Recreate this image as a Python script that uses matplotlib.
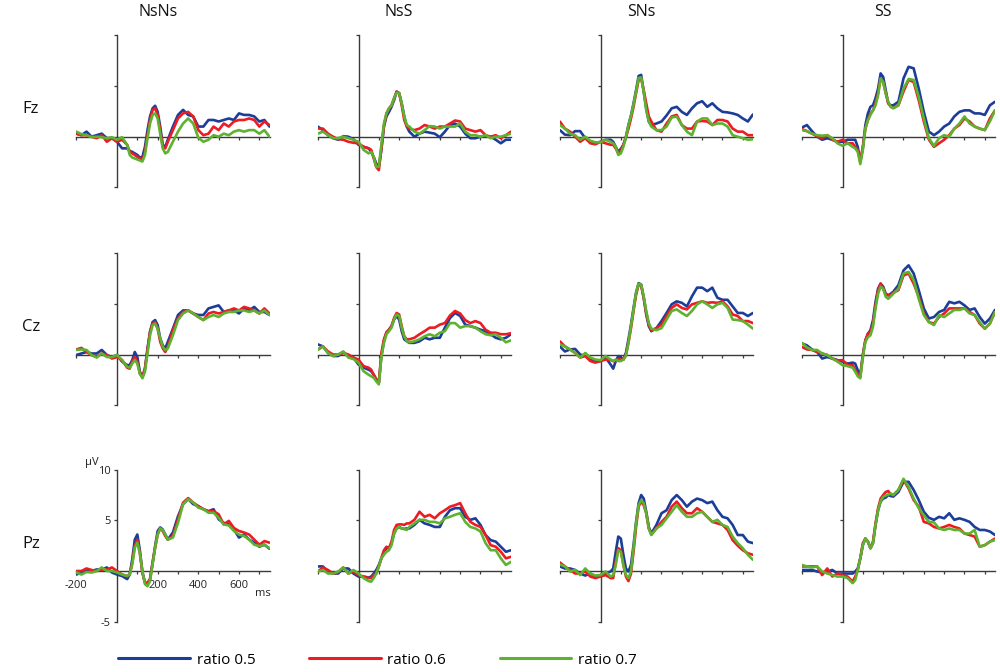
import numpy as np
import matplotlib
matplotlib.use("Agg")
import matplotlib.pyplot as plt

plt.rcParams["font.family"] = ["Open Sans", "DejaVu Sans"]

conditions = ["NsNs", "NsS", "SNs", "SS"]
electrodes = ["Fz", "Cz", "Pz"]
ratio_labels = ["ratio 0.5", "ratio 0.6", "ratio 0.7"]
colors = ["#1c3d98", "#ec1c24", "#5eb230"]

# sample times (ms): 25 ms steps, 12.5 ms around the early components
time_ms = np.concatenate([np.arange(-200, 51, 25),
                          np.arange(62.5, 251, 12.5),
                          np.arange(275, 751, 25)])

# amplitudes in microvolts
fz_nsns_05 = [0.3, 0.15, 0.5, 0.0, 0.15, 0.3, -0.15, -0.15, -0.5, -1.15, -1.15,
              -1.4, -1.5, -1.65, -1.8, -2.05, -2.0, -1.0, 0.65, 2.0, 2.8, 3.05, 2.45, 1.0, -0.8, -1.0, -0.3,
              1.0, 2.15, 2.65, 2.15, 2.0, 1.0, 1.0, 1.65, 1.65, 1.5, 1.65, 1.8, 1.65, 2.3, 2.15, 2.15, 2.0, 1.5, 1.65, 1.0]
fz_nsns_06 = [0.3, 0.15, 0.15, 0.0, -0.15, 0.15, -0.5, -0.15, -0.5, -0.3, -0.8,
              -1.5, -1.65, -1.8, -2.0, -2.15, -2.25, -1.5, 0.15, 1.65, 2.65, 2.8, 2.15, 0.65, -1.0, -1.15, -0.5,
              0.65, 1.8, 2.3, 2.45, 2.0, 0.65, 0.15, 0.3, 1.0, 0.65, 1.3, 1.0, 1.5, 1.65, 1.65, 1.8, 1.65, 1.0, 1.5, 1.15]
fz_nsns_07 = [0.5, 0.25, 0.15, -0.05, 0.0, -0.05, -0.15, -0.05, -0.3, -0.05, -0.8,
              -1.8, -2.05, -2.15, -2.25, -2.35, -2.45, -1.8, -0.15, 1.3, 2.15, 2.3, 1.8, 0.3, -1.15, -1.65, -1.5,
              -0.5, 0.5, 1.3, 1.8, 1.3, -0.1, -0.5, -0.3, 0.15, 0.0, 0.3, 0.15, 0.5, 0.65, 0.5, 0.65, 0.65, 0.3, 0.65, 0.0]

fz_nss_05 = [1.0, 0.65, 0.15, -0.15, -0.3, 0.05, 0.0, -0.25, -0.8, -1.0, -1.15,
             -1.5, -2.0, -2.65, -2.95, -1.3, 1.0, 2.0, 2.45, 2.95, 3.6, 4.45, 4.3, 3.3, 2.0, 1.0, 0.5,
             0.0, 0.3, 0.5, 0.4, 0.3, -0.05, 0.5, 1.15, 1.3, 1.0, 0.3, -0.15, -0.15, 0.0, 0.0, 0.0, -0.3, -0.65, -0.3, -0.3]
fz_nss_06 = [0.8, 0.8, 0.3, 0.0, -0.25, -0.3, -0.5, -0.6, -0.65, -1.0, -1.15,
             -1.3, -2.15, -3.0, -3.3, -1.15, 1.0, 2.3, 2.8, 3.1, 3.8, 4.45, 4.3, 3.1, 1.65, 1.0, 0.8,
             0.65, 0.8, 1.15, 1.0, 0.8, 1.0, 1.0, 1.3, 1.6, 1.5, 0.8, 0.65, 0.5, 0.65, 0.15, 0.0, 0.15, -0.15, 0.15, 0.5]
fz_nss_07 = [0.3, 0.5, 0.15, -0.15, -0.15, 0.0, -0.15, -0.3, -0.5, -1.3, -1.65,
             -1.5, -2.0, -3.0, -2.95, -0.8, 1.3, 2.3, 2.8, 3.1, 3.8, 4.35, 4.3, 3.3, 2.0, 1.15, 1.0,
             0.5, 0.3, 0.65, 1.05, 1.0, 0.8, 1.0, 1.0, 1.0, 1.3, 0.5, 0.15, 0.15, 0.0, 0.15, -0.15, 0.0, 0.0, 0.15, 0.3]

fz_sns_05 = [0.65, 0.2, 0.15, 0.55, 0.55, -0.15, -0.5, -0.65, -0.5, -0.3, -0.3,
             -0.5, -1.0, -1.5, -1.2, -0.8, 0.0, 1.15, 2.1, 3.3, 4.6, 6.0, 6.1, 4.45, 2.8, 1.5, 1.15,
             1.3, 1.5, 2.1, 2.8, 2.95, 2.45, 2.15, 2.8, 3.3, 3.5, 2.95, 3.3, 2.8, 2.45, 2.4, 2.3, 2.15, 1.8, 1.5, 2.2]
fz_sns_06 = [1.5, 0.8, 0.5, 0.0, -0.5, -0.15, -0.65, -0.75, -0.5, -0.65, -0.8,
             -0.8, -1.15, -1.65, -1.4, -0.8, -0.1, 0.8, 1.8, 2.95, 4.3, 5.6, 5.75, 4.6, 3.3, 2.0, 1.5,
             0.65, 0.5, 1.3, 2.0, 2.15, 1.15, 0.8, 0.8, 1.5, 1.55, 1.5, 1.15, 1.65, 1.65, 1.5, 0.8, 0.5, 0.5, 0.15, 0.15]
fz_sns_07 = [1.15, 0.8, 0.3, 0.15, -0.3, 0.0, -0.4, -0.55, -0.55, -0.3, -0.5,
             -0.65, -1.0, -1.8, -1.65, -1.0, -0.1, 1.15, 2.05, 3.2, 4.45, 5.8, 5.85, 4.45, 2.6, 1.5, 1.0,
             0.65, 0.65, 1.0, 1.9, 2.0, 1.15, 0.5, 0.15, 1.5, 1.8, 1.8, 1.15, 1.3, 1.3, 1.0, 0.15, 0.0, -0.15, -0.3, -0.25]

fz_ss_05 = [0.9, 1.15, 0.55, 0.0, -0.3, -0.15, -0.3, -0.5, -0.5, -0.3, -0.3,
            -0.3, -1.0, -2.45, -1.15, 1.15, 2.3, 2.95, 3.1, 3.8, 4.75, 6.25, 5.9, 4.6, 3.3, 3.1, 3.1,
            3.45, 5.75, 6.9, 6.75, 4.75, 2.45, 0.5, 0.15, 0.5, 1.0, 1.3, 2.0, 2.45, 2.6, 2.6, 2.3, 2.3, 2.15, 3.1, 3.45]
fz_ss_06 = [0.75, 0.55, 0.3, 0.05, -0.15, 0.15, -0.3, -0.5, -0.3, -0.65, -0.65,
            -1.0, -1.3, -2.45, -1.0, 0.8, 1.65, 2.3, 2.6, 3.3, 4.3, 5.75, 5.4, 4.3, 3.3, 2.95, 2.85,
            3.1, 4.45, 5.6, 5.4, 3.6, 1.5, -0.3, -1.0, -0.65, -0.3, 0.15, 0.8, 1.15, 1.8, 1.5, 1.0, 0.8, 0.65, 1.8, 2.6]
fz_ss_07 = [0.65, 0.55, 0.3, 0.15, 0.1, 0.15, -0.15, -0.65, -0.9, -0.65, -1.0,
            -1.15, -1.5, -2.7, -1.3, 0.8, 1.65, 2.15, 2.6, 3.1, 4.1, 5.75, 5.4, 4.3, 3.45, 2.95, 2.8,
            3.1, 4.75, 5.7, 5.6, 3.95, 1.8, -0.15, -0.9, -0.15, 0.15, 0.0, 0.8, 1.3, 2.0, 1.3, 1.0, 0.8, 0.65, 1.5, 2.6]

cz_nsns_05 = [-0.05, 0.1, 0.25, 0.1, 0.1, 0.45, -0.05, -0.25, -0.05, -0.7, -1.05,
              -1.05, -0.55, 0.25, -0.25, -1.7, -2.2, -1.4, 0.6, 2.25, 3.2, 3.4, 2.9, 1.6, 0.9, 0.6, 1.25,
              2.55, 3.9, 4.35, 4.35, 4.05, 3.9, 3.9, 4.55, 4.7, 4.85, 4.2, 4.35, 4.35, 4.05, 4.55, 4.35, 4.7, 4.2, 4.2, 3.9]
cz_nsns_06 = [0.5, 0.65, 0.25, -0.05, -0.25, 0.1, -0.05, -0.4, -0.25, -0.55, -1.3,
              -1.4, -0.7, -0.25, -0.7, -1.9, -2.2, -1.4, 0.45, 2.25, 3.05, 3.2, 2.55, 1.25, 0.6, 0.25, 0.75,
              2.4, 3.55, 4.2, 4.35, 4.05, 3.7, 3.4, 4.05, 4.2, 4.05, 4.2, 4.35, 4.55, 4.35, 4.7, 4.55, 4.35, 4.05, 4.55, 4.05]
cz_nsns_07 = [0.45, 0.5, 0.45, -0.05, -0.3, 0.1, -0.25, -0.25, -0.05, -0.55, -1.2,
              -1.3, -0.9, -0.55, -0.9, -1.9, -2.35, -1.7, 0.1, 1.9, 2.9, 3.05, 2.55, 1.6, 0.75, 0.45, 0.6,
              1.9, 3.4, 4.05, 4.35, 4.05, 3.7, 3.4, 3.7, 3.9, 3.7, 4.05, 4.2, 4.2, 4.35, 4.35, 4.2, 4.35, 4.05, 4.35, 3.9]

cz_nss_05 = [1.0, 0.8, 0.15, -0.15, -0.15, 0.25, -0.15, -0.3, -1.0, -1.3, -1.5,
             -1.65, -2.0, -2.45, -2.8, -0.15, 1.3, 2.15, 2.45, 2.8, 3.45, 3.8, 3.45, 2.3, 1.5, 1.3, 1.15,
             1.15, 1.3, 1.65, 1.5, 1.65, 1.65, 2.65, 3.6, 4.1, 3.8, 2.95, 2.8, 2.65, 2.45, 2.3, 2.0, 1.65, 1.5, 1.65, 2.0]
cz_nss_06 = [0.5, 0.8, 0.3, 0.0, 0.0, 0.15, 0.0, -0.3, -0.5, -1.15, -1.3,
             -1.5, -2.0, -2.45, -2.8, 0.15, 1.5, 2.2, 2.45, 2.8, 3.6, 4.1, 3.95, 2.8, 1.8, 1.5, 1.5,
             1.65, 2.0, 2.3, 2.65, 2.65, 2.95, 3.1, 3.85, 4.3, 4.05, 3.4, 3.1, 3.3, 3.1, 2.45, 2.15, 2.15, 2.0, 2.0, 2.1]
cz_nss_07 = [0.45, 0.8, 0.15, -0.15, 0.0, 0.3, -0.3, -0.45, -0.8, -1.65, -2.0,
             -2.15, -2.3, -2.65, -2.95, -0.3, 1.15, 2.0, 2.3, 2.65, 3.45, 3.95, 3.8, 2.65, 1.8, 1.3, 1.2,
             1.3, 1.5, 1.8, 2.0, 1.8, 2.15, 2.3, 3.1, 3.1, 2.65, 2.8, 2.8, 2.65, 2.3, 2.0, 1.9, 2.0, 1.65, 1.2, 1.4]

cz_sns_05 = [0.8, 0.3, 0.5, 0.55, 0.0, -0.15, -0.5, -0.65, -0.65, -0.3, -1.0,
             -1.4, -0.65, -0.15, -0.3, -0.5, 0.15, 1.5, 2.95, 4.6, 6.1, 7.05, 6.9, 5.6, 3.95, 2.8, 2.3,
             2.6, 3.3, 4.1, 4.95, 5.25, 5.1, 4.75, 5.75, 6.6, 6.6, 6.25, 6.6, 5.6, 5.4, 5.4, 4.75, 4.1, 4.1, 3.8, 4.1]
cz_sns_06 = [1.3, 0.8, 0.5, 0.15, -0.3, -0.15, -0.65, -0.8, -0.65, -0.5, -0.55,
             -0.65, -0.65, -0.45, -0.5, -0.5, 0.0, 1.15, 2.6, 4.3, 5.9, 6.9, 6.8, 5.6, 4.1, 2.95, 2.4,
             2.6, 2.95, 3.8, 4.6, 4.95, 4.6, 4.45, 4.95, 5.1, 5.25, 5.1, 5.15, 5.1, 5.25, 4.75, 3.95, 3.8, 3.3, 3.3, 3.1]
cz_sns_07 = [1.0, 0.8, 0.5, 0.15, -0.3, 0.15, -0.3, -0.5, -0.55, -0.15, -0.5,
             -0.65, -0.5, -0.65, -0.65, -0.5, -0.15, 1.15, 2.8, 4.45, 6.1, 7.0, 6.9, 5.75, 4.3, 3.1, 2.55,
             2.4, 2.6, 3.45, 4.3, 4.45, 4.1, 3.8, 4.3, 4.95, 5.25, 4.95, 4.6, 4.95, 5.1, 4.6, 3.45, 3.4, 3.3, 2.95, 2.55]

cz_ss_05 = [1.1, 0.9, 0.5, 0.25, -0.4, -0.25, -0.4, -0.55, -0.7, -0.9, -0.8,
            -0.9, -1.55, -2.05, -0.05, 1.4, 2.05, 2.4, 3.4, 5.2, 6.5, 7.0, 6.7, 6.0, 5.85, 6.0, 6.2,
            6.85, 8.3, 8.8, 8.0, 6.35, 4.55, 3.55, 3.7, 4.2, 4.4, 5.2, 5.05, 5.2, 4.85, 4.4, 4.55, 3.7, 3.05, 3.55, 4.4]
cz_ss_06 = [0.75, 0.5, 0.45, 0.25, 0.1, -0.05, -0.4, -0.6, -0.55, -1.05, -1.05,
            -1.55, -1.9, -2.2, -0.05, 1.4, 2.05, 2.25, 3.05, 4.85, 6.35, 7.0, 6.5, 5.95, 5.85, 5.85, 6.1,
            6.35, 7.8, 8.0, 7.0, 5.7, 4.05, 3.2, 3.05, 3.7, 4.05, 4.55, 4.55, 4.55, 4.55, 4.2, 3.9, 3.05, 2.55, 3.05, 4.2]
cz_ss_07 = [1.15, 0.7, 0.45, 0.45, 0.1, -0.05, -0.4, -0.7, -1.05, -1.15, -1.3,
            -1.7, -2.15, -2.35, -0.25, 1.25, 1.7, 1.9, 2.75, 4.55, 6.0, 6.7, 6.5, 5.7, 5.5, 5.75, 6.0,
            6.5, 8.0, 8.15, 7.35, 5.5, 3.9, 3.2, 2.9, 3.9, 3.7, 4.05, 4.4, 4.4, 4.55, 4.05, 3.9, 3.2, 2.55, 3.05, 4.2]

pz_nsns_05 = [-0.35, -0.15, 0.1, 0.0, 0.15, 0.15, 0.35, -0.15, -0.35, -0.5, -0.8,
              -0.35, 1.15, 3.1, 3.6, 2.05, -0.15, -1.15, -1.3, -0.8, 0.8, 2.45, 3.95, 4.3, 4.1, 3.6, 3.1,
              3.8, 5.4, 6.6, 7.1, 6.6, 6.4, 6.1, 5.9, 6.1, 5.1, 4.75, 4.6, 4.1, 3.3, 3.6, 3.1, 2.8, 2.4, 2.6, 2.2]
pz_nsns_06 = [0.0, 0.0, 0.25, 0.1, 0.0, 0.15, 0.15, 0.35, 0.0, -0.35, -0.5,
              -0.35, 0.8, 2.45, 3.1, 1.75, -0.15, -1.15, -1.15, -0.8, 0.8, 2.3, 3.6, 4.2, 3.95, 3.45, 3.1,
              3.45, 5.1, 6.75, 7.2, 6.75, 6.4, 6.1, 5.9, 5.9, 5.6, 4.6, 4.95, 4.25, 3.95, 3.8, 3.6, 3.1, 2.6, 2.95, 2.8]
pz_nsns_07 = [-0.15, -0.35, -0.1, -0.15, 0.0, 0.35, 0.0, 0.0, -0.15, -0.35, -0.5,
              -0.35, 0.65, 2.3, 2.8, 1.75, 0.0, -1.3, -1.5, -1.0, 0.65, 2.3, 3.6, 4.2, 4.05, 3.6, 3.1,
              3.3, 4.75, 6.6, 7.1, 6.75, 6.25, 6.1, 5.75, 5.75, 5.25, 4.6, 4.5, 3.95, 3.6, 3.45, 3.1, 2.6, 2.45, 2.6, 2.25]

pz_nss_05 = [0.45, 0.45, -0.05, -0.25, -0.25, 0.25, 0.25, -0.25, -0.55, -0.55, -0.65,
             -0.55, -0.25, 0.1, 0.6, 1.25, 1.9, 2.25, 2.25, 2.75, 3.7, 4.2, 4.35, 4.2, 4.15, 4.2, 4.2,
             4.55, 5.05, 4.7, 4.55, 4.35, 4.35, 5.35, 6.0, 6.2, 6.2, 5.35, 5.05, 5.2, 4.55, 3.55, 3.05, 2.9, 2.4, 1.9, 2.05]
pz_nss_06 = [-0.05, 0.35, 0.1, -0.25, -0.15, 0.35, -0.25, -0.05, -0.4, -0.55, -0.7,
             -0.7, -0.4, -0.25, 0.45, 1.25, 2.05, 2.4, 2.25, 2.9, 4.05, 4.55, 4.6, 4.6, 4.55, 4.7, 4.7,
             5.05, 5.85, 5.35, 5.55, 5.2, 5.7, 6.0, 6.35, 6.5, 6.7, 5.7, 4.85, 4.55, 4.35, 3.55, 2.55, 2.4, 1.9, 1.25, 1.4]
pz_nss_07 = [-0.05, 0.1, -0.25, -0.25, -0.05, 0.35, -0.25, 0.1, -0.25, -0.7, -1.0,
             -1.05, -0.7, -0.25, 0.45, 1.25, 1.6, 1.9, 2.05, 2.55, 3.7, 4.2, 4.35, 4.2, 4.15, 4.05, 4.35,
             4.7, 5.05, 5.05, 4.85, 4.85, 4.7, 5.2, 5.35, 5.55, 5.7, 4.85, 4.35, 4.2, 3.9, 2.75, 2.05, 2.05, 1.25, 0.6, 0.9]

pz_sns_05 = [0.45, 0.25, 0.25, 0.1, -0.25, -0.45, -0.25, -0.55, -0.4, -0.25, -0.05,
             0.25, 1.9, 3.4, 3.2, 1.6, 0.25, -0.05, 0.6, 2.55, 4.85, 6.7, 7.5, 7.15, 5.85, 4.35, 3.7,
             4.55, 5.7, 6.0, 7.0, 7.5, 7.0, 6.35, 6.85, 7.15, 7.0, 6.7, 6.85, 6.0, 5.35, 5.2, 4.55, 3.55, 3.55, 2.9, 2.75]
pz_sns_06 = [0.85, 0.45, 0.1, -0.25, -0.25, -0.05, -0.55, -0.7, -0.55, -0.4, -0.7,
             -0.7, 0.9, 2.25, 2.05, 0.6, -0.55, -1.0, -0.25, 1.9, 4.35, 6.35, 6.85, 6.5, 5.7, 4.2, 3.6,
             4.2, 4.85, 5.35, 6.35, 6.85, 6.2, 5.7, 5.7, 6.2, 5.85, 5.35, 4.85, 4.7, 4.55, 4.05, 3.05, 2.5, 2.05, 1.75, 1.6]
pz_sns_07 = [0.65, 0.45, -0.05, 0.1, -0.4, 0.25, -0.25, -0.45, -0.4, -0.05, -0.55,
             -0.4, 0.6, 2.05, 1.9, 0.6, -0.4, -0.7, -0.05, 2.25, 4.7, 6.5, 7.0, 6.7, 5.7, 4.2, 3.55,
             4.2, 4.55, 5.2, 5.85, 6.5, 5.85, 5.35, 5.35, 5.7, 5.85, 5.35, 4.85, 5.05, 4.55, 4.35, 3.4, 2.75, 2.25, 1.6, 1.1]

pz_ss_05 = [0.1, 0.1, 0.1, -0.05, -0.15, -0.05, 0.1, -0.25, -0.25, -0.25, -0.25,
            -0.05, 0.25, 1.25, 2.55, 3.2, 2.9, 2.25, 2.75, 4.55, 6.0, 6.85, 7.15, 7.25, 7.5, 7.4, 7.35,
            7.8, 8.8, 8.8, 8.0, 7.0, 5.85, 5.25, 5.05, 5.35, 5.2, 5.7, 5.05, 5.2, 5.05, 4.85, 4.35, 4.05, 4.05, 3.9, 3.55]
pz_ss_06 = [0.45, 0.45, 0.45, 0.45, -0.4, 0.25, -0.55, -0.25, -0.4, -0.55, -1.05,
            -0.55, 0.1, 1.25, 2.75, 3.2, 2.9, 2.25, 2.9, 4.7, 6.2, 7.15, 7.5, 7.8, 7.9, 7.55, 7.5,
            8.0, 9.0, 8.15, 7.0, 6.35, 4.85, 4.7, 4.35, 4.2, 4.35, 4.55, 4.35, 4.2, 3.7, 3.55, 3.4, 2.4, 2.55, 2.9, 3.2]
pz_ss_07 = [0.6, 0.45, 0.35, 0.45, -0.05, -0.25, -0.4, -0.55, -0.55, -0.7, -1.2,
            -0.9, 0.1, 1.25, 2.55, 3.2, 2.9, 2.25, 2.75, 4.55, 6.0, 6.9, 7.3, 7.45, 7.55, 7.65, 7.5,
            8.0, 9.1, 8.3, 7.15, 6.2, 5.5, 4.85, 4.8, 4.2, 4.05, 4.2, 4.05, 4.05, 3.7, 3.7, 4.05, 2.4, 2.55, 2.9, 3.05]

panels = [
    [[fz_nsns_05, fz_nsns_06, fz_nsns_07], [fz_nss_05, fz_nss_06, fz_nss_07],
     [fz_sns_05, fz_sns_06, fz_sns_07], [fz_ss_05, fz_ss_06, fz_ss_07]],
    [[cz_nsns_05, cz_nsns_06, cz_nsns_07], [cz_nss_05, cz_nss_06, cz_nss_07],
     [cz_sns_05, cz_sns_06, cz_sns_07], [cz_ss_05, cz_ss_06, cz_ss_07]],
    [[pz_nsns_05, pz_nsns_06, pz_nsns_07], [pz_nss_05, pz_nss_06, pz_nss_07],
     [pz_sns_05, pz_sns_06, pz_sns_07], [pz_ss_05, pz_ss_06, pz_ss_07]],
]

# layout in pixels of the 1000x672 canvas
W, H = 1000, 672
px_ms = 0.2033
px_uv = 10.13
xlim = (-200, 752)
ylim = (-5.25, 10.25)
zero_x = [117, 358.5, 600.5, 842.5]
zero_y = [136.7, 354.5, 571]
axis_col = "#3a3a3a"

fig = plt.figure(figsize=(W / 100, H / 100), dpi=100)

for r, elec in enumerate(electrodes):
    for c, cond in enumerate(conditions):
        left = (zero_x[c] + xlim[0] * px_ms) / W
        bottom = 1 - (zero_y[r] - ylim[0] * px_uv) / H
        width = (xlim[1] - xlim[0]) * px_ms / W
        height = (ylim[1] - ylim[0]) * px_uv / H
        ax = fig.add_axes([left, bottom, width, height])
        ax.patch.set_visible(False)

        for series, col, lab in zip(panels[r][c], colors, ratio_labels):
            ax.plot(time_ms, series, color=col, lw=1.9, label=lab,
                    solid_joinstyle="round", solid_capstyle="round")

        ax.set_xlim(*xlim)
        ax.set_ylim(*ylim)
        for s in ["top", "right"]:
            ax.spines[s].set_visible(False)
        ax.spines["left"].set_position(("data", 0))
        ax.spines["bottom"].set_position(("data", 0))
        ax.spines["left"].set_bounds(-5, 10)
        ax.spines["bottom"].set_bounds(-200, 752)
        for s in ["left", "bottom"]:
            ax.spines[s].set_color(axis_col)
            ax.spines[s].set_linewidth(1.0)
            ax.spines[s].set_zorder(0)

        ax.set_xticks([-200, 100, 200, 300, 400, 500, 600, 700])
        ax.set_yticks([-5, 5, 10])
        ax.tick_params(axis="both", direction="out", length=2.5, width=0.9,
                       color=axis_col, labelsize=8, labelcolor="#222222")
        ax.tick_params(axis="x", pad=4)
        ax.tick_params(axis="y", pad=2)

        if r == 2 and c == 0:
            ax.set_xticklabels(["-200", "", "200", "", "400", "", "600", ""])
            ax.set_yticklabels(["-5", "5", "10"])
            ax.text(718, -2.2, "ms", fontsize=8, color="#222222", ha="center", va="center")
            ax.text(-123, 10.7, "µV", fontsize=8, color="#222222", ha="center", va="center",
                    clip_on=False)
        else:
            ax.set_xticklabels([])
            ax.set_yticklabels([])

        if r == 0:
            ax.text(200, 12.3, cond, fontsize=11.5, ha="center", va="center",
                    color="#111111", clip_on=False)
        if c == 0:
            ax.text(-423, 2.7, elec, fontsize=12, ha="center", va="center",
                    color="#111111", clip_on=False)

        if r == 2 and c == 0:
            legend_handles = ax.get_lines()

fig.legend(handles=legend_handles, labels=ratio_labels, loc="center left",
           bbox_to_anchor=(0.118, 1 - 660 / H), ncol=3, frameon=False,
           fontsize=11, handlelength=4.7, handletextpad=0.45, columnspacing=3.5,
           borderpad=0, borderaxespad=0)
for line in fig.legends[0].get_lines():
    line.set_linewidth(2.2)

fig.savefig("out.png", dpi=100)
